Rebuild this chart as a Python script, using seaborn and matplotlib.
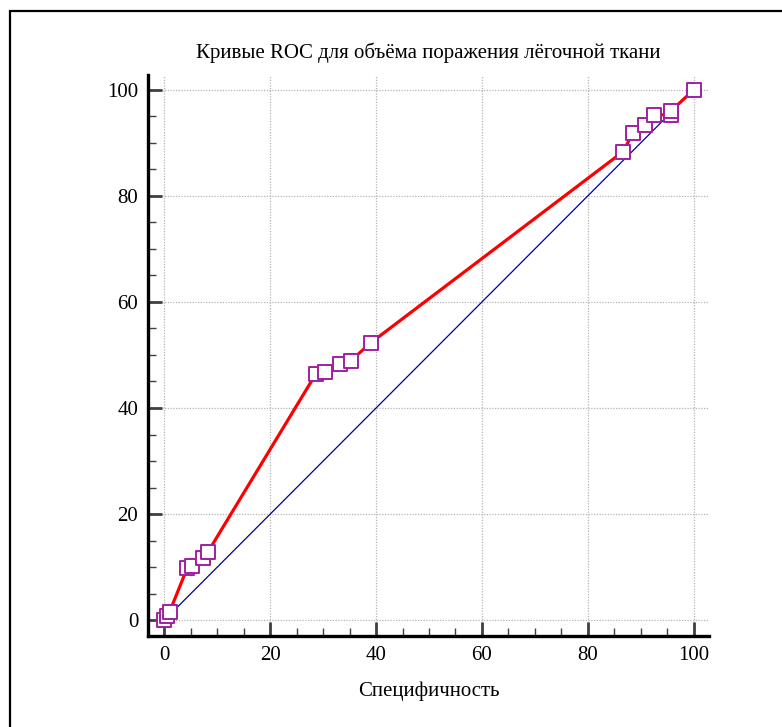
import matplotlib
matplotlib.use("Agg")
import matplotlib.pyplot as plt
from matplotlib.patches import Rectangle
from matplotlib.ticker import MultipleLocator
import seaborn as sns
import pandas as pd

# Data: 100 - specificity (x) vs sensitivity (y)
fpr = [0.0, 0.4, 1.0, 4.3, 5.2, 7.2, 8.2, 28.6, 30.3, 33.1, 35.2, 39.0,
       86.6, 88.6, 90.9, 92.6, 95.8, 95.8, 100.0]
tpr = [0.0, 0.8, 1.6, 9.8, 10.2, 11.7, 12.8, 46.4, 46.8, 48.3, 48.9, 52.3,
       88.3, 91.9, 93.4, 95.3, 95.3, 96.1, 100.0]
diag_x = [0, 100]
diag_y = [0, 100]

title = "Кривые ROC для объёма поражения лёгочной ткани"
xlabel = "Специфичность"
ticks = [0, 20, 40, 60, 80, 100]

sns.set_theme(style="white")
plt.rcParams['font.family'] = ['Liberation Serif', 'DejaVu Serif']

fig = plt.figure(figsize=(7.82, 7.27), dpi=100)
ax = fig.add_axes([148/782, 1-636/727, (709-148)/782, (636-75)/727])

df = pd.DataFrame({"x": fpr, "y": tpr})
dfd = pd.DataFrame({"x": diag_x, "y": diag_y})

sns.lineplot(data=dfd, x="x", y="y", ax=ax, color="#00008B", lw=0.9,
             estimator=None, sort=False, zorder=2)
sns.lineplot(data=df, x="x", y="y", ax=ax, color="#FF0000", lw=2.3,
             estimator=None, sort=False, zorder=3)
sns.scatterplot(data=df, x="x", y="y", ax=ax, marker="s", s=88,
                facecolor="white", edgecolor="#A020A0", linewidth=1.4,
                zorder=4)

ax.set_xlim(-3.1, 102.9)
ax.set_ylim(-3.0, 102.8)
ax.set_xticks(ticks)
ax.set_yticks(ticks)
ax.xaxis.set_minor_locator(MultipleLocator(5))
ax.yaxis.set_minor_locator(MultipleLocator(5))
ax.grid(True, which="major", color="#B4B4B4", linestyle=(0, (1, 1.2)), lw=0.9)
ax.set_axisbelow(True)

for s in ["top", "right"]:
    ax.spines[s].set_visible(False)
for s in ["left", "bottom"]:
    ax.spines[s].set_color("black")
    ax.spines[s].set_linewidth(2.4)

ax.tick_params(which="major", direction="in", length=10, width=2.0,
               color="#404040", labelsize=15, labelcolor="black", pad=7,
               left=True, bottom=True)
ax.tick_params(which="minor", direction="in", length=5.5, width=1.0,
               color="#404040", left=True, bottom=True)

ax.set_xlabel(xlabel, fontsize=15, labelpad=12, color="black")
ax.set_ylabel("")
ax.set_title(title, fontsize=15, pad=12, color="black")

fig.patches.append(Rectangle((10/782, -0.2), 1.3, 0.2 + 1 - 11/727,
                             transform=fig.transFigure, fill=False,
                             edgecolor="black", lw=1.6, zorder=10))

fig.savefig("out.png", dpi=100)
